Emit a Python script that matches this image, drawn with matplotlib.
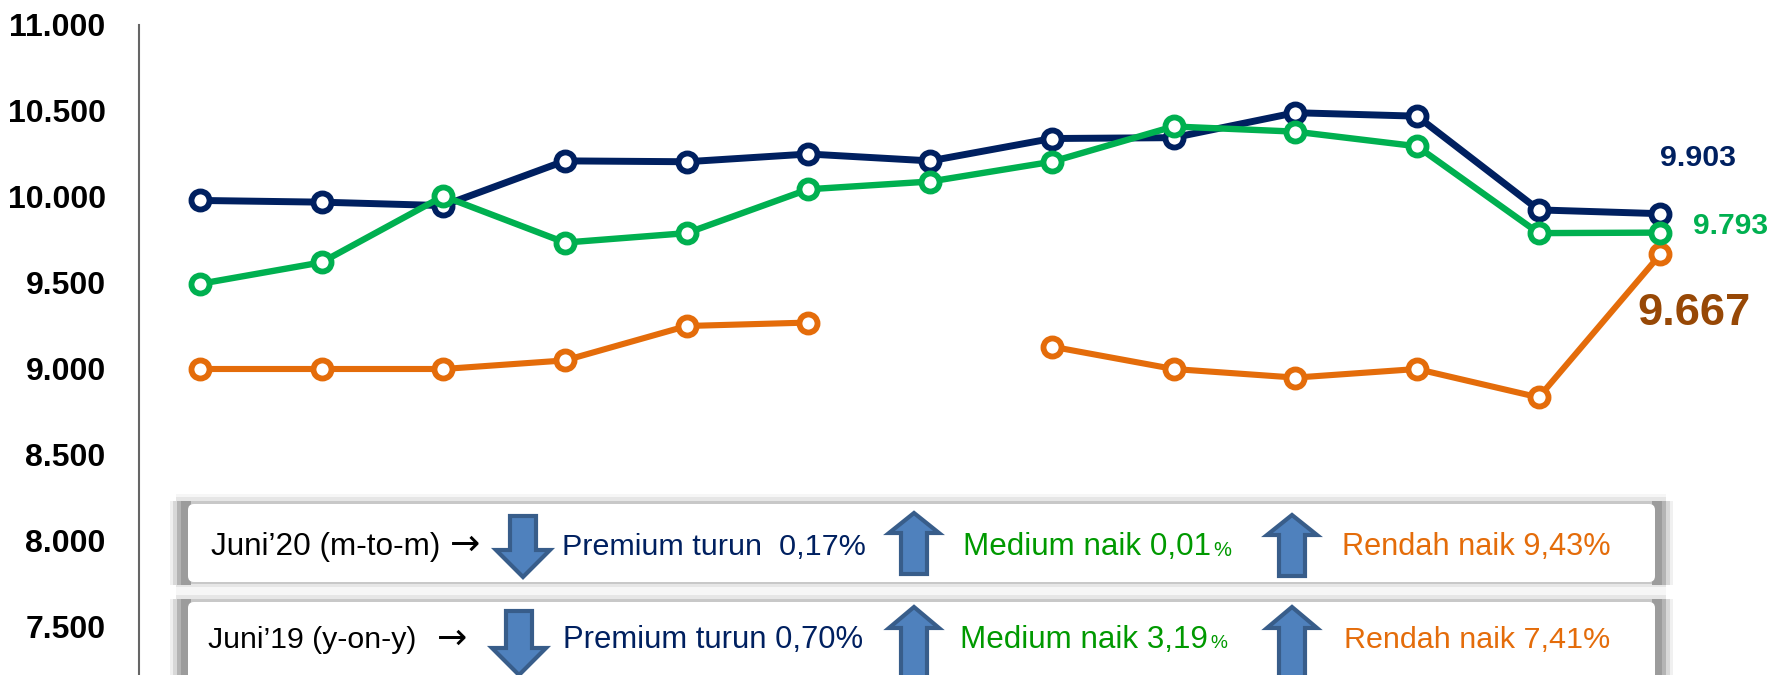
import matplotlib
matplotlib.use('Agg')
import matplotlib.pyplot as plt
from matplotlib.patches import FancyBboxPatch, Polygon, Rectangle

# harga beras per kualitas, 13 bulan
premium = [9980, 9970, 9950, 10210, 10205, 10250, 10210, 10340, 10345, 10490, 10470, 9925, 9903]
medium = [9495, 9620, 10005, 9735, 9790, 10045, 10090, 10205, 10410, 10380, 10295, 9790, 9793]
rendah = [9000, 9000, 9000, 9050, 9250, 9270, None, 9130, 9000, 8950, 9000, 8835, 9667]
yticks = [7500, 8000, 8500, 9000, 9500, 10000, 10500, 11000]
yticklabels = ['7.500', '8.000', '8.500', '9.000', '9.500', '10.000', '10.500', '11.000']

NAVY = '#002060'
GREEN = '#00B050'
ORANGE = '#E46C0A'
DGREEN = '#009900'
FONT = ['Liberation Sans', 'DejaVu Sans']

W, H = 1773, 675
fig = plt.figure(figsize=(W / 100, H / 100), dpi=100)
renderer = fig.canvas.get_renderer()
ax = fig.add_axes([139 / W, 0, 1 - 139 / W, 650 / H])
months = list(range(len(premium)))


def fit(t, width):
    # sesuaikan ukuran font ke lebar teks di gambar asli
    w = t.get_window_extent(renderer).width
    t.set_fontsize(t.get_fontsize() * width / w)
    return t


def draw_line(values, color, lw):
    ys = [float('nan') if v is None else v for v in values]
    ax.plot(months, ys, color=color, lw=lw, marker='o', ms=13, mew=4.2,
            mfc='white', mec=color, clip_on=False)


draw_line(rendah, ORANGE, 4.4)
draw_line(premium, NAVY, 5)
draw_line(medium, GREEN, 4.6)

ax.set_xlim(-0.5, 12.925)
ax.set_ylim(11000 - 650 / 0.172, 11000)
ax.set_xticks([])
ax.set_yticks(yticks)
ax.set_yticklabels(yticklabels, family=FONT, fontweight='bold', fontsize=23)
ax.tick_params(axis='y', length=0, pad=24)
for s in ['top', 'right', 'bottom']:
    ax.spines[s].set_visible(False)
ax.spines['left'].set_color('#666666')
ax.spines['left'].set_linewidth(1.5)

fit(ax.text(12.0, 10227, '9.903', color=NAVY, family=FONT, fontweight='bold', fontsize=20, va='center'), 76)
fit(ax.text(12.27, 9831, '9.793', color=GREEN, family=FONT, fontweight='bold', fontsize=20, va='center'), 75)
fit(ax.text(11.81, 9325, '9.667', color='#974806', family=FONT, fontweight='bold', fontsize=30, va='center'), 113)

# panel bawah, pakai koordinat piksel
pn = fig.add_axes([0, 0, 1, 1], facecolor='none')
pn.set_xlim(0, W)
pn.set_ylim(H, 0)
pn.axis('off')


def panel(top, bottom):
    # bayangan bertingkat di sekeliling kotak putih
    shades = [(18, '#F0F0F0'), (15, '#D8D8D8'), (11, '#B4B4B4'), (7, '#9C9C9C')]
    pn.add_patch(Rectangle((176, top - 10), 1490, bottom - top + 20, fc='#F6F6F6', ec='none'))
    pn.add_patch(Rectangle((176, top - 7), 1490, bottom - top + 12, fc='#E6E6E6', ec='none'))
    pn.add_patch(Rectangle((176, top - 3), 1490, bottom - top + 5, fc='#C8C8C8', ec='none'))
    for d, c in shades:
        pn.add_patch(Rectangle((188 - d, top - 3), d + 3, bottom - top + 6, fc=c, ec='none'))
        pn.add_patch(Rectangle((1652, top - 3), d + 3, bottom - top + 6, fc=c, ec='none'))
    pn.add_patch(FancyBboxPatch((190, top + 2), 1463, bottom - top - 4, boxstyle='round,pad=2,rounding_size=6',
                                fc='white', ec='none'))


def arrow(cx, tip, end, half, shaft, neck):
    pts = [(cx, tip), (cx + half, neck), (cx + shaft, neck), (cx + shaft, end),
           (cx - shaft, end), (cx - shaft, neck), (cx - half, neck)]
    pn.add_patch(Polygon(pts, closed=True, fc='#4F81BD', ec='#385D8A', lw=3))


def label(x, y, s, color, width):
    t = pn.text(x, y, s, color=color, family=FONT, fontsize=20, va='center', ha='left')
    return fit(t, width)


panel(504, 582)
panel(602, 692)

label(211, 547, 'Juni\u201920 (m-to-m)', 'black', 229)
pn.text(465, 545, '\u2192', color='black', family='DejaVu Sans', fontsize=26, va='center', ha='center')
arrow(523, 577, 516, 27, 13, 550)
label(562, 547, 'Premium turun  0,17%', NAVY, 303)
arrow(914, 513, 574, 25, 13, 533)
label(963, 547, 'Medium naik 0,01', DGREEN, 248)
label(1213, 550, '%', DGREEN, 18)
arrow(1292, 515, 576, 25, 13, 535)
label(1342, 547, 'Rendah naik 9,43%', ORANGE, 268)

label(208, 640, 'Juni\u201919 (y-on-y)', 'black', 209)
pn.text(452, 639, '\u2192', color='black', family='DejaVu Sans', fontsize=26, va='center', ha='center')
arrow(519, 675, 611, 27, 13, 648)
label(563, 640, 'Premium turun 0,70%', NAVY, 300)
arrow(914, 607, 680, 25, 13, 628)
label(960, 640, 'Medium naik 3,19', DGREEN, 248)
label(1210, 643, '%', DGREEN, 17)
arrow(1292, 607, 680, 25, 13, 628)
label(1344, 640, 'Rendah naik 7,41%', ORANGE, 266)

fig.savefig('out.png', dpi=100, facecolor='white')
